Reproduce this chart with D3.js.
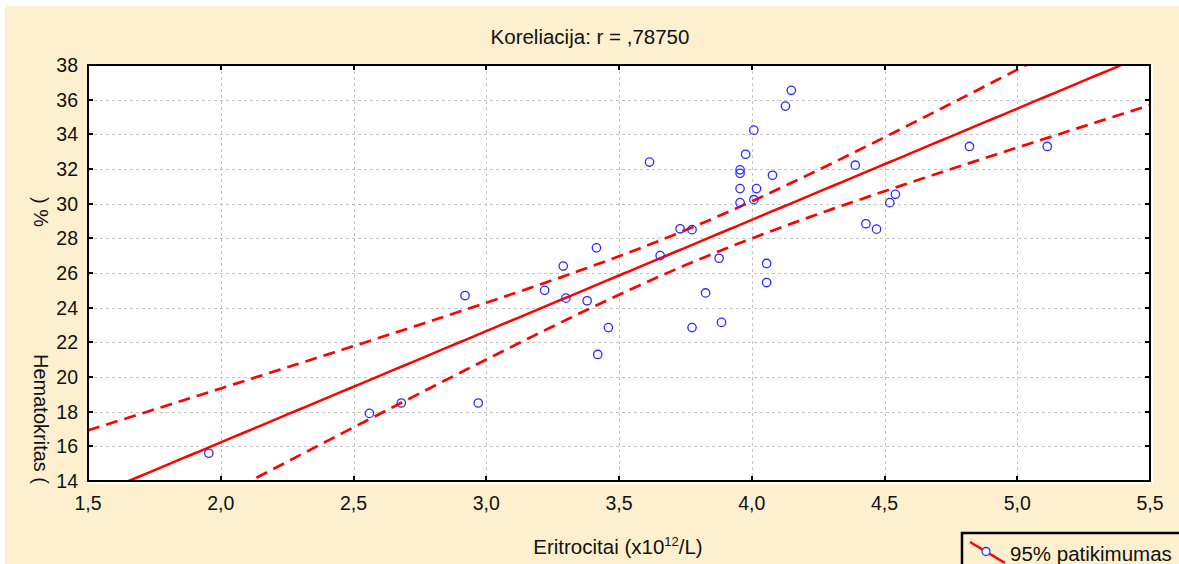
<!DOCTYPE html>
<html>
<head>
<meta charset="utf-8">
<script src="https://cdn.jsdelivr.net/npm/d3@7"></script>
<style>
  html, body { margin: 0; padding: 0; background: #ffffff; }
  svg { display: block; font-family: "Liberation Sans", Arial, sans-serif; }
</style>
</head>
<body>
<svg id="chart" width="1179" height="564"></svg>
<script>
// Erythrocyte count (x10^12/L) versus haematocrit (%) for each sample
const eritrocitai = [
  1.955, 2.56, 2.68, 2.97, 2.92, 3.22, 3.29, 3.30, 3.415, 3.38,
  3.46, 3.42, 3.655, 3.73, 3.775, 3.877, 3.826, 3.775, 3.886, 4.056,
  4.056, 3.615, 3.956, 3.956, 3.956, 3.956, 4.018, 4.008, 3.977, 4.008,
  4.127, 4.149, 4.078, 4.39, 4.541, 4.52, 4.43, 4.47, 4.82, 5.113
];
const hematokritas = [
  15.6, 17.9, 18.5, 18.5, 24.7, 25.0, 26.4, 24.55, 27.45, 24.4,
  22.85, 21.3, 27.0, 28.55, 28.5, 26.85, 24.85, 22.85, 23.15, 26.55,
  25.45, 32.4, 31.95, 31.75, 30.87, 30.06, 30.87, 30.23, 32.85, 34.24,
  35.63, 36.54, 31.64, 32.22, 30.54, 30.06, 28.84, 28.53, 33.3, 33.3
];
const xTicks = [1.5, 2.0, 2.5, 3.0, 3.5, 4.0, 4.5, 5.0, 5.5];
const yTicks = [14, 16, 18, 20, 22, 24, 26, 28, 30, 32, 34, 36, 38];
const titleText = "Koreliacija: r = ,78750";
const legendText = "95% patikimumas";

const W = 1179, H = 564;
const plot = { left: 88, right: 1150, top: 65, bottom: 481 };
const cream = "#FEF0CE";

const svg = d3.select("#chart");

// page background
svg.append("rect").attr("x", 5).attr("y", 6).attr("width", W - 5).attr("height", H - 6)
  .attr("fill", cream);

const x = d3.scaleLinear().domain([1.5, 5.5]).range([plot.left, plot.right]);
const y = d3.scaleLinear().domain([14, 38]).range([plot.bottom, plot.top]);
const fmt = d => d3.format(".1f")(d).replace(".", ",");

// plot area (white, slightly larger than the frame on the right and bottom)
svg.append("rect").attr("x", plot.left).attr("y", plot.top)
  .attr("width", plot.right - plot.left + 3).attr("height", plot.bottom - plot.top + 3)
  .attr("fill", "#ffffff");

// grid
const grid = svg.append("g").attr("stroke", "#c4c4c4").attr("stroke-width", 1)
  .attr("stroke-dasharray", "3,3").attr("shape-rendering", "crispEdges");
grid.selectAll("line.gx").data(xTicks.slice(1, -1)).join("line")
  .attr("x1", d => Math.round(x(d)) + 0.5).attr("x2", d => Math.round(x(d)) + 0.5)
  .attr("y1", plot.top).attr("y2", plot.bottom);
grid.selectAll("line.gy").data(yTicks.slice(1, -1)).join("line")
  .attr("y1", d => Math.round(y(d)) + 0.5).attr("y2", d => Math.round(y(d)) + 0.5)
  .attr("x1", plot.left).attr("x2", plot.right);

// least-squares fit with 95% confidence band for the mean
const n = eritrocitai.length;
const mx = d3.mean(eritrocitai), my = d3.mean(hematokritas);
let sxx = 0, sxy = 0;
for (let i = 0; i < n; i++) {
  sxx += (eritrocitai[i] - mx) ** 2;
  sxy += (eritrocitai[i] - mx) * (hematokritas[i] - my);
}
const slope = sxy / sxx, intercept = my - slope * mx;
let sse = 0;
for (let i = 0; i < n; i++) sse += (hematokritas[i] - (intercept + slope * eritrocitai[i])) ** 2;
const s = Math.sqrt(sse / (n - 2));
const tCrit = 2.024;
const xs = d3.range(1.5, 5.5001, 0.02);
const fit = xs.map(v => [v, intercept + slope * v]);
const half = v => tCrit * s * Math.sqrt(1 / n + (v - mx) ** 2 / sxx);
const upper = xs.map(v => [v, intercept + slope * v + half(v)]);
const lower = xs.map(v => [v, intercept + slope * v - half(v)]);

svg.append("clipPath").attr("id", "clip").append("rect")
  .attr("x", plot.left).attr("y", plot.top)
  .attr("width", plot.right - plot.left).attr("height", plot.bottom - plot.top);

const lineGen = d3.line().x(d => x(d[0])).y(d => y(d[1]));
const lines = svg.append("g").attr("clip-path", "url(#clip)");
lines.append("path").datum(fit).attr("d", lineGen)
  .attr("fill", "none").attr("stroke", "#ff0000").attr("stroke-width", 2.5);
[upper, lower].forEach(band => {
  lines.append("path").datum(band).attr("d", lineGen)
    .attr("fill", "none").attr("stroke", "#ff0000").attr("stroke-width", 2.7)
    .attr("stroke-dasharray", "12,7");
});

// points
lines.selectAll("circle").data(d3.zip(eritrocitai, hematokritas)).join("circle")
  .attr("cx", d => x(d[0])).attr("cy", d => y(d[1])).attr("r", 4.2)
  .attr("fill", "none").attr("stroke", "#2a2aff").attr("stroke-width", 1.3);

// frame and ticks (ticks point inward on all four sides)
const frame = svg.append("g").attr("stroke", "#000").attr("shape-rendering", "crispEdges");
frame.append("rect").attr("x", plot.left).attr("y", plot.top)
  .attr("width", plot.right - plot.left).attr("height", plot.bottom - plot.top)
  .attr("fill", "none").attr("stroke-width", 2.5);
const tl = 5;
xTicks.forEach(d => {
  const px = Math.round(x(d));
  frame.append("line").attr("x1", px).attr("x2", px).attr("y1", plot.bottom).attr("y2", plot.bottom - tl).attr("stroke-width", 2);
  frame.append("line").attr("x1", px).attr("x2", px).attr("y1", plot.top).attr("y2", plot.top + tl).attr("stroke-width", 2);
});
yTicks.forEach(d => {
  const py = Math.round(y(d));
  frame.append("line").attr("y1", py).attr("y2", py).attr("x1", plot.left).attr("x2", plot.left + tl).attr("stroke-width", 2);
  frame.append("line").attr("y1", py).attr("y2", py).attr("x1", plot.right).attr("x2", plot.right - tl).attr("stroke-width", 2);
});

// tick labels
const labelStyle = (sel, size) => sel.attr("font-size", size || 19.5).attr("fill", "#111");
svg.append("g").selectAll("text").data(xTicks).join("text")
  .attr("x", d => x(d)).attr("y", 510).attr("text-anchor", "middle")
  .text(fmt).call(labelStyle);
svg.append("g").selectAll("text").data(yTicks).join("text")
  .attr("x", 78).attr("y", d => y(d) + 7).attr("text-anchor", "end")
  .text(d => d).call(labelStyle);

// title
svg.append("text").attr("x", 590).attr("y", 44).attr("text-anchor", "middle")
  .text(titleText).call(labelStyle, 20.5);

// x axis title with superscript
const xt = svg.append("text").attr("x", 618).attr("y", 554).attr("text-anchor", "middle").call(labelStyle, 20.5);
xt.append("tspan").text("Eritrocitai (x10");
xt.append("tspan").attr("font-size", 13).attr("dy", -8).text("12");
xt.append("tspan").attr("dy", 8).text("/L)");

// y axis title
svg.append("text").attr("transform", "translate(34,197) rotate(90)").text(")  %").call(labelStyle, 20);
svg.append("text").attr("transform", "translate(34,354) rotate(90)").text("Hematokritas (").call(labelStyle, 20);

// legend
const lg = svg.append("g");
lg.append("rect").attr("x", 962).attr("y", 533).attr("width", 240).attr("height", 40)
  .attr("fill", "none").attr("stroke", "#000").attr("stroke-width", 2.5);
lg.append("line").attr("x1", 970).attr("y1", 542).attr("x2", 1005).attr("y2", 563)
  .attr("stroke", "#ff0000").attr("stroke-width", 2.5);
lg.append("circle").attr("cx", 986).attr("cy", 551.5).attr("r", 4)
  .attr("fill", "#ffffff").attr("stroke", "#2a2aff").attr("stroke-width", 1.3);
lg.append("text").attr("x", 1010).attr("y", 561).text(legendText).call(labelStyle, 20.5);
</script>
</body>
</html>
